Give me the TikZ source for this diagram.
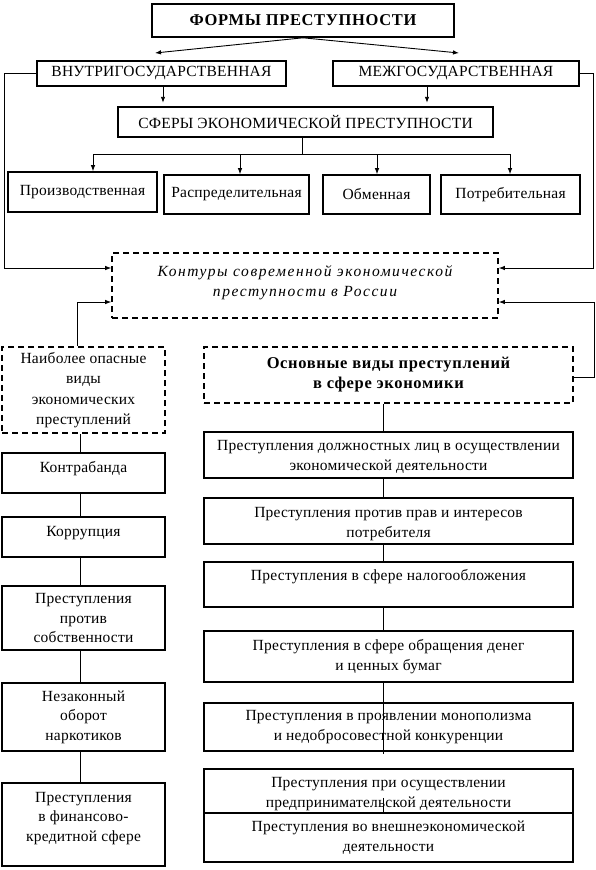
\documentclass[tikz,border=0pt]{standalone}
\usepackage{fontspec}
\setmainfont{Liberation Serif}
\usetikzlibrary{arrows.meta}
\begin{document}
\begin{tikzpicture}[x=1pt,y=-1pt,
  txt/.style={inner sep=0pt, align=center, font=\fontsize{15.5}{19.5}\selectfont\addfontfeature{LetterSpace=1.5}},
  box/.style={draw, line width=1.6pt, inner sep=0pt, txt},
  dbox/.style={box, dash pattern=on 6pt off 4pt},
  conn/.style={line width=0.9pt},
  arr/.style={conn, -{Latex[length=6pt,width=4.5pt]}}]
\useasboundingbox (0,0) rectangle (595,870);
% top
\node[box, minimum width=302, minimum height=33, font=\fontsize{16.5}{19}\selectfont\bfseries\addfontfeature{LetterSpace=4}] (top) at (303,20.5) {ФОРМЫ ПРЕСТУПНОСТИ};
\node[box, minimum width=249, minimum height=25] (vn) at (161.5,73.5) {ВНУТРИГОСУДАРСТВЕННАЯ};
\node[box, minimum width=246, minimum height=25] (mezh) at (456,73.5) {МЕЖГОСУДАРСТВЕННАЯ};
\node[box, minimum width=375, minimum height=30] (sfery) at (305.5,122) {СФЕРЫ ЭКОНОМИЧЕСКОЙ ПРЕСТУПНОСТИ};
\node[box, minimum width=149, minimum height=40] (p1) at (82.5,192) {Производственная};
\node[box, minimum width=145, minimum height=39] (p2) at (236.5,194.5) {Распределительная};
\node[box, minimum width=107, minimum height=39] (p3) at (376.5,194.5) {Обменная};
\node[box, minimum width=139, minimum height=39] (p4) at (510.5,194.5) {Потребительная};
\node[dbox, minimum width=386, minimum height=65] (kont) at (305,285.5) {};
\node[txt, font=\fontsize{15.5}{20}\selectfont\itshape\addfontfeature{LetterSpace=10}] (kontt) at ([yshift=3pt]kont.center) {Контуры современной экономической\\преступности в России};
\node[dbox, minimum width=163, minimum height=86, font=\fontsize{15.5}{20.5}\selectfont\addfontfeature{LetterSpace=1.5}] (nai) at (83.5,390) {Наиболее опасные\\виды\\экономических\\преступлений};
\node[dbox, minimum width=369, minimum height=56, font=\fontsize{16.5}{20}\selectfont\bfseries\addfontfeature{LetterSpace=4}] (osn) at (388.5,375) {Основные виды преступлений\\в сфере экономики};
% left column
\node[box, minimum width=163, minimum height=40] (kontr) at (83.5,473) {};
\node[txt] (kontrt) at ([yshift=4.5pt]kontr.center) {Контрабанда};
\node[box, minimum width=163, minimum height=40] (korr) at (83.5,537) {};
\node[txt] (korrt) at ([yshift=4pt]korr.center) {Коррупция};
\node[box, minimum width=163, minimum height=64] (sobst) at (83.5,618) {Преступления\\против\\собственности};
\node[box, minimum width=163, minimum height=68] (nark) at (83.5,717) {Незаконный\\оборот\\наркотиков};
\node[box, minimum width=163, minimum height=83] (fin) at (83.5,824.5) {};
\node[txt] (fint) at ([yshift=6pt]fin.center) {Преступления\\в финансово-\\кредитной сфере};
% right column
\node[box, minimum width=369, minimum height=46] (r1) at (388.5,455) {};
\node[txt] (r1t) at ([yshift=-2pt]r1.center) {Преступления должностных лиц в осуществлении\\экономической деятельности};
\node[box, minimum width=369, minimum height=46] (r2) at (388.5,521) {};
\node[txt] (r2t) at ([yshift=-3pt]r2.center) {Преступления против прав и интересов\\потребителя};
\node[box, minimum width=369, minimum height=45] (r3) at (388.5,584.5) {};
\node[txt] (r3t) at ([yshift=7.5pt]r3.center) {Преступления в сфере налогообложения};
\node[box, minimum width=369, minimum height=51] (r4) at (388.5,656.5) {Преступления в сфере обращения денег\\и ценных бумаг};
\node[box, minimum width=369, minimum height=48] (r5) at (388.5,727) {Преступления в проявлении монополизма\\и недобросовестной конкуренции};
\node[box, minimum width=369, minimum height=44] (r6) at (388.5,791) {};
\node[txt] (r6t) at ([yshift=-3pt]r6.center) {Преступления при осуществлении\\предпринимательской деятельности};
\node[box, minimum width=369, minimum height=49] (r7) at (388.5,837.5) {Преступления во внешнеэкономической\\деятельности};
% coordinates
\coordinate (ta) at (155,53);
\coordinate (tb) at (459,53);
\coordinate (colL) at (80,0);
\coordinate (colR) at (383,0);
\coordinate (bus) at (302,154);
\coordinate (bl) at (93,154);
\coordinate (b2) at (240,154);
\coordinate (b3) at (377,154);
\coordinate (br) at (510,154);
% top arrows
\draw[arr] (top.south) -- (ta);
\draw[arr] (top.south) -- (tb);
\draw[arr] ([xshift=1.5pt]vn.south) -- ++(0,16);
\draw[arr] ([xshift=-29pt]mezh.south) -- ++(0,16);
\draw[conn] (sfery.south -| bus) -- (bus);
\draw[conn] (bl) -- (br);
\draw[arr] (bl) -- (bl |- p1.north);
\draw[arr] (b2) -- (b2 |- p2.north);
\draw[arr] (b3) -- (b3 |- p3.north);
\draw[arr] (br) -- (br |- p4.north);
% feedback
\draw[arr] (vn.west) -| (4,268) -- ([yshift=17.5pt]kont.west);
\draw[arr] (mezh.east) -| (593,268) -- ([yshift=17.5pt]kont.east);
\draw[arr] ([xshift=-6.5pt]nai.north) |- ([yshift=-16.5pt]kont.west);
\draw[arr] ([yshift=-2pt]osn.east) -| (594,302) -- ([yshift=-16.5pt]kont.east);
% left column
\draw[conn] (nai.south -| colL) -- (kontr.north -| colL);
\draw[conn] (kontr.south -| colL) -- (korr.north -| colL);
\draw[conn] (korr.south -| colL) -- (sobst.north -| colL);
\draw[conn] (sobst.south -| colL) -- (nark.north -| colL);
\draw[conn] (nark.south -| colL) -- (fin.north -| colL);
% right column
\draw[conn] (osn.south -| colR) -- (r1.north -| colR);
\draw[conn] (r1.south -| colR) -- (r2.north -| colR);
\draw[conn] (r2.south -| colR) -- (r3.north -| colR);
\draw[conn] (r3.south -| colR) -- (r4.north -| colR);
\draw[conn] (r4.south -| colR) -- ([yshift=-2pt]r5.south -| colR);
\draw[conn] ([yshift=16pt]r6.south -| colR) -- (r6.south -| colR);
\end{tikzpicture}
\end{document}
